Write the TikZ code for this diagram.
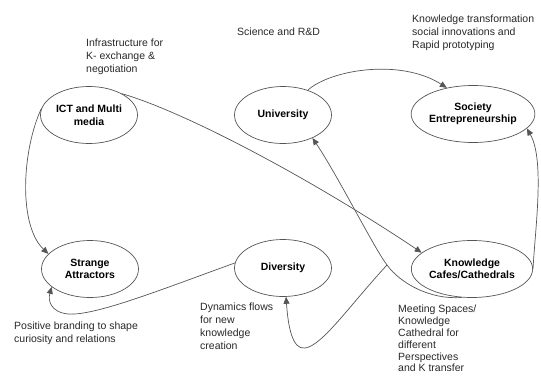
\documentclass[tikz,border=0pt]{standalone}
\usepackage{fontspec}
\setmainfont{Liberation Sans}
\usetikzlibrary{shapes.geometric,arrows.meta}
\definecolor{linegray}{RGB}{85,85,85}
\definecolor{textgray}{RGB}{40,40,40}
\tikzset{
  oval/.style={ellipse, draw=linegray, line width=0.7pt, minimum width=97pt, minimum height=57pt, inner sep=0pt, align=center, font=\fontsize{10.5}{12.5}\selectfont\bfseries, text=black},
  note/.style={anchor=north west, inner sep=0pt, align=left, font=\fontsize{10.5}{13}\selectfont, text=textgray},
  conn/.style={draw=linegray, line width=0.7pt},
  arr/.style={conn, -{Triangle[length=7pt,width=6pt]}}
}
\begin{document}
\begin{tikzpicture}[x=1pt,y=-1pt]
\useasboundingbox (0,0) rectangle (541,378);
% ellipses
\node[oval] (ict) at (89,115) {ICT and Multi\\media};
\node[oval] (univ) at (283,115) {University};
\node[oval] (soc) at (473,114) {Society\\Entrepreneurship};
\node[oval] (sa) at (90,269) {Strange\\Attractors};
\node[oval] (div) at (283,268) {Diversity};
\node[oval] (kc) at (472,269) {Knowledge\\Cafes/Cathedrals};
% notes
\node[note] (n1) at (86,39) {Infrastructure for\\K- exchange \&\\negotiation};
\node[note] (n2) at (237,28) {Science and R\&D};
\node[note] (n3) at (412,15) {Knowledge transformation\\social innovations and\\Rapid prototyping};
\node[note] (n4) at (14,322) {Positive branding to shape\\curiosity and relations};
\node[note] (n5) at (200,303) {Dynamics flows\\for new\\knowledge\\creation};
\node[note, font=\fontsize{10.5}{11.8}\selectfont] (n6) at (398,305) {Meeting Spaces/\\Knowledge\\Cathedral for\\different\\Perspectives\\and K transfer};
% connectors
\coordinate (br) at (387,265);
\draw[arr] (ict.33) .. controls (185,112) and (310,178) .. (kc.162);
\draw[arr] (ict.172) .. controls (22,150) and (18,225) .. (sa.160);
\draw[arr] (div.174) .. controls (160,290) and (95,316) .. (68,314) .. controls (50,312) and (48,300) .. (sa.205);
\draw[arr] (univ.45) .. controls (330,70) and (400,58) .. (soc.135);
\draw[arr] (kc.0) .. controls (535,230) and (545,160) .. (soc.-15);
\draw[arr] (kc.250) .. controls (430,300) and (400,283) .. (br) .. controls (374,248) and (338,176) .. (univ.-38);
\draw[arr] (br) .. controls (350,305) and (322,346) .. (305,348) .. controls (292,350) and (288,325) .. (div.-84);
\end{tikzpicture}
\end{document}
